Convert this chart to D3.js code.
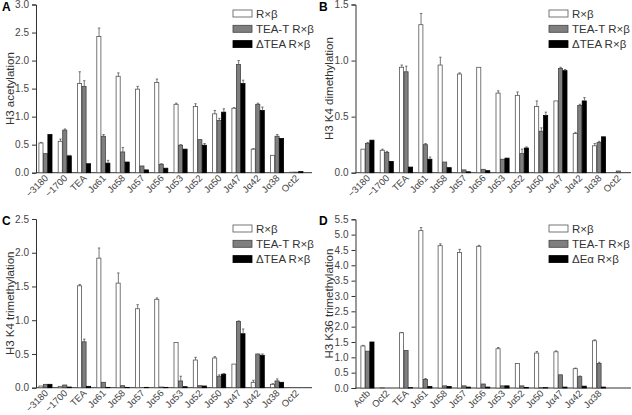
<!DOCTYPE html>
<html><head><meta charset="utf-8">
<script src="https://cdn.jsdelivr.net/npm/d3@7"></script>
<style>body{margin:0;background:#fff}svg text{font-family:"Liberation Sans",Arial,sans-serif}</style>
</head><body><svg id="c" width="632" height="415"></svg>
<script>
const catsABC = ["\u22123180","\u22121700","TEA","J\u03b161","J\u03b158","J\u03b157","J\u03b156","J\u03b153","J\u03b152","J\u03b150","J\u03b147","J\u03b142","J\u03b138","Oct2"];
const catsD = ["Actb","Oct2","TEA","J\u03b161","J\u03b158","J\u03b157","J\u03b156","J\u03b153","J\u03b152","J\u03b150","J\u03b147","J\u03b142","J\u03b138"];
const seriesNames = ["R\u00d7\u03b2","TEA-T R\u00d7\u03b2","\u0394TEA R\u00d7\u03b2"];
const seriesNamesD = ["R\u00d7\u03b2","TEA-T R\u00d7\u03b2","\u0394E\u03b1 R\u00d7\u03b2"];

// Panel A: H3 acetylation
const aWhite = [0.53,0.56,1.59,2.43,1.72,1.49,1.61,1.22,1.18,1.05,1.15,0.42,0.31,0.01];
const aGray  = [0.34,0.76,1.54,0.65,0.37,0.12,0.15,0.49,0.59,0.93,1.93,1.22,0.65,0.01];
const aBlack = [0.68,0.30,0.16,0.17,0.19,0.05,0.08,0.42,0.49,1.08,1.59,1.11,0.61,0.02];
const aWhiteErr = [0.01,0.04,0.21,0.15,0.06,0.05,0.06,0.02,0.05,0.06,0.01,0.01,0,0];
const aGrayErr  = [0,0.02,0.10,0.03,0.08,0,0.01,0.01,0,0.04,0.07,0.02,0.03,0];
const aBlackErr = [0,0.01,0,0.05,0,0,0,0,0.03,0.06,0.06,0.06,0,0];

// Panel B: H3 K4 dimethylation
const bWhite = [0.21,0.20,0.94,1.32,0.96,0.88,0.94,0.71,0.69,0.59,0.64,0.35,0.24,0.00];
const bGray  = [0.26,0.18,0.90,0.25,0.095,0.025,0.03,0.12,0.17,0.37,0.93,0.60,0.27,0.015];
const bBlack = [0.29,0.10,0.05,0.12,0.045,0.008,0.018,0.13,0.22,0.51,0.91,0.64,0.32,0.00];
const bWhiteErr = [0,0.01,0.02,0.10,0.07,0.01,0,0.02,0.03,0.05,0,0.01,0.02,0];
const bGrayErr  = [0.01,0.01,0.05,0.01,0,0,0,0,0.04,0.03,0.01,0.01,0.01,0];
const bBlackErr = [0,0,0,0.02,0,0,0,0,0.01,0.03,0.01,0.03,0,0];

// Panel C: H3 K4 trimethylation
const cWhite = [0.025,0.02,1.51,1.92,1.55,1.17,1.31,0.67,0.41,0.44,0.35,0.08,0.05,0];
const cGray  = [0.05,0.04,0.68,0.08,0.03,0.00,0.01,0.10,0.03,0.17,0.98,0.50,0.10,0];
const cBlack = [0.05,0.01,0.02,0.005,0.005,0.005,0.005,0.015,0.025,0.20,0.80,0.48,0.08,0];
const cWhiteErr = [0,0,0.02,0.15,0.15,0.06,0.02,0,0.04,0.02,0,0.03,0.01,0];
const cGrayErr  = [0,0,0.04,0,0,0,0,0.07,0,0.02,0.01,0,0.03,0];
const cBlackErr = [0,0,0,0,0,0,0,0,0,0.01,0.07,0.02,0,0];

// Panel D: H3 K36 trimethylation
const dWhite = [1.37,0.01,1.80,5.13,4.64,4.42,4.62,1.28,0.80,1.14,1.18,0.63,1.54];
const dGray  = [1.20,0.00,1.22,0.28,0.07,0.07,0.13,0.07,0.07,0.01,0.43,0.37,0.80];
const dBlack = [1.50,0.00,0.01,0.05,0.05,0.03,0.03,0.07,0.02,0.01,0.03,0.06,0.03];
const dWhiteErr = [0.02,0,0.01,0.10,0.06,0.10,0.03,0.04,0,0.05,0.03,0.02,0.03];
const dGrayErr  = [0,0,0,0.03,0,0,0,0,0,0,0,0.02,0.04];
const dBlackErr = [0,0,0,0,0,0,0,0,0,0,0,0,0];

const yTicksA = [0,0.5,1,1.5,2,2.5,3];
const yTicksB = [0,0.5,1,1.5];
const yTicksC = [0,0.5,1,1.5,2,2.5];
const yTicksD = [0,0.5,1,1.5,2,2.5,3,3.5,4,4.5,5,5.5];

const fills = ["#ffffff","#7f7f7f","#000000"];
const strokes = ["#555555","#444444","#000000"];
const svg = d3.select("#c");

function panel(o){
  const g = svg.append("g");
  const y = d3.scaleLinear().domain([0,o.ymax]).range([o.y0,o.ytop]);
  const x = d3.scaleBand().domain(o.cats).range([o.bandStart,o.bandStart+o.step*o.cats.length]).paddingInner(0).paddingOuter(0);
  const bw = 4.5;
  const sub = d3.scaleBand().domain([0,1,2]).range([x.bandwidth()/2-bw*1.5, x.bandwidth()/2+bw*1.5]);
  const ya = d3.axisLeft(y).tickValues(o.ticks).tickFormat(d3.format(".1f")).tickSize(4).tickPadding(3);
  const yg = g.append("g").attr("transform",`translate(${o.axisX},0)`).call(ya);
  yg.select(".domain").attr("stroke","#333");
  yg.selectAll(".tick line").attr("stroke","#333");
  yg.selectAll("text").attr("font-size",10).attr("fill","#444");
  g.append("line").attr("x1",o.axisX).attr("x2",o.xEnd).attr("y1",o.y0).attr("y2",o.y0).attr("stroke","#333");
  o.series.forEach((vals,si)=>{
    g.append("g").selectAll("rect").data(vals).join("rect")
      .attr("x",(d,i)=>x(o.cats[i])+sub(si))
      .attr("width",sub.bandwidth()-0.4)
      .attr("y",d=>y(d)).attr("height",d=>Math.max(0,o.y0-y(d)))
      .attr("fill",fills[si]).attr("stroke",strokes[si]).attr("stroke-width",0.8);
    const errs = o.errs[si];
    const eg = g.append("g");
    vals.forEach((v,i)=>{
      if(!errs[i]) return;
      const cx = x(o.cats[i])+sub(si)+sub.bandwidth()/2;
      eg.append("line").attr("x1",cx).attr("x2",cx).attr("y1",y(v)).attr("y2",y(v+errs[i])).attr("stroke","#555").attr("stroke-width",0.8);
      eg.append("line").attr("x1",cx-1.2).attr("x2",cx+1.2).attr("y1",y(v+errs[i])).attr("y2",y(v+errs[i])).attr("stroke","#555").attr("stroke-width",0.8);
    });
  });
  g.append("g").selectAll("text").data(o.cats).join("text")
    .attr("transform",d=>`translate(${x(d)+x.bandwidth()/2+3},${o.y0+6}) rotate(-45)`)
    .attr("text-anchor","end").attr("font-size",9.5).attr("fill","#444").text(d=>d);
  g.append("text").attr("transform",`translate(${o.titleX},${(o.y0+o.ytop)/2}) rotate(-90)`)
    .attr("text-anchor","middle").attr("font-size",11.5).attr("fill","#333").text(o.title);
  g.append("text").attr("x",o.letterX).attr("y",o.letterY).attr("font-size",12).attr("font-weight","bold").attr("fill","#000").text(o.letter);
  o.names.forEach((n,i)=>{
    const ly = o.legY + i*15.3;
    g.append("rect").attr("x",o.legX).attr("y",ly).attr("width",19).attr("height",7)
      .attr("fill",fills[i]).attr("stroke",strokes[i]).attr("stroke-width",0.8);
    g.append("text").attr("x",o.legX+23).attr("y",ly+7.5).attr("font-size",11.5).attr("fill","#333").text(n);
  });
}

panel({cats:catsABC,series:[aWhite,aGray,aBlack],errs:[aWhiteErr,aGrayErr,aBlackErr],ymax:3,ticks:yTicksA,
  y0:172.7,ytop:4.5,axisX:36,bandStart:36,step:19.3,xEnd:312,title:"H3 acetylation",titleX:14,
  letter:"A",letterX:2,letterY:11,names:seriesNames,legX:233,legY:10});
panel({cats:catsABC,series:[bWhite,bGray,bBlack],errs:[bWhiteErr,bGrayErr,bBlackErr],ymax:1.5,ticks:yTicksB,
  y0:172.7,ytop:4.5,axisX:355.5,bandStart:358,step:19.3,xEnd:631,title:"H3 K4 dimethylation",titleX:333,
  letter:"B",letterX:319,letterY:11,names:seriesNames,legX:549,legY:10});
panel({cats:catsABC,series:[cWhite,cGray,cBlack],errs:[cWhiteErr,cGrayErr,cBlackErr],ymax:2.5,ticks:yTicksC,
  y0:387.7,ytop:219,axisX:36,bandStart:36,step:19.3,xEnd:312,title:"H3 K4 trimethylation",titleX:14,
  letter:"C",letterX:2,letterY:225,names:seriesNames,legX:233,legY:225});
panel({cats:catsD,series:[dWhite,dGray,dBlack],errs:[dWhiteErr,dGrayErr,dBlackErr],ymax:5.5,ticks:yTicksD,
  y0:388,ytop:219.3,axisX:355.5,bandStart:358,step:19.3,xEnd:631,title:"H3 K36 trimethylation",titleX:333,
  letter:"D",letterX:319,letterY:225,names:seriesNamesD,legX:549,legY:225});
</script></body></html>
